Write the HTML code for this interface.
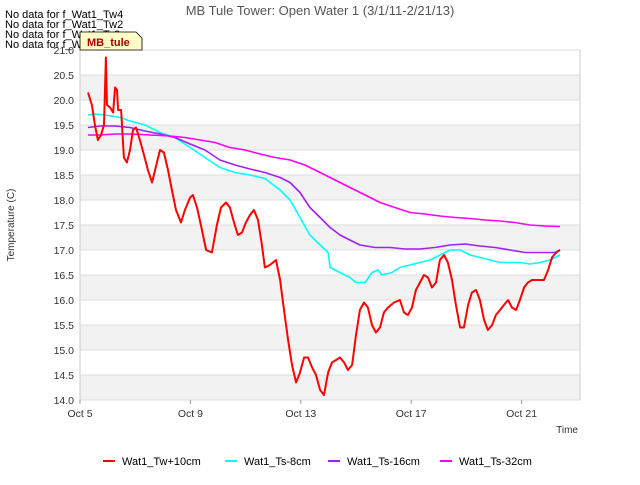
<!DOCTYPE html>
<html><head><meta charset="utf-8"><style>
body{margin:0;background:#fff;font-family:"Liberation Sans",sans-serif;}
svg text{font-family:"Liberation Sans",sans-serif;}
</style></head><body>
<svg width="640" height="480" viewBox="0 0 640 480">
<g id="bands"></g><g id="grid"></g><g id="ticks"></g><g id="series"></g>
<text x="320" y="15" text-anchor="middle" font-size="13" fill="#555">MB Tule Tower: Open Water 1 (3/1/11-2/21/13)</text>
<text x="14" y="225" text-anchor="middle" font-size="10" fill="#333" transform="rotate(-90 14 225)">Temperature (C)</text>
<text x="578" y="433" text-anchor="end" font-size="10" fill="#333">Time</text>
<g font-size="11" fill="#000">
<text x="5" y="18">No data for f_Wat1_Tw4</text>
<text x="5" y="28">No data for f_Wat1_Tw2</text>
<text x="5" y="38">No data for f_Wat1_Ts2</text>
<text x="5" y="48">No data for f_Wat1_Ts4</text>
</g>
<g>
<path d="M80,32 L136,32 L142,38 L142,50 L80,50 Z" fill="#ffffc8" stroke="#000" stroke-width="0.8"/>
<text x="87" y="46" font-size="11" font-weight="bold" fill="#a00">MB_tule</text>
</g>
<g id="legend"></g>
</svg>
<script>
const NS="http://www.w3.org/2000/svg";
const X0=80,X1=580,Y0=400,Y1=50,DAYPX=27.6,YMIN=14,YMAX=21;
const yTicks=[14.0,14.5,15.0,15.5,16.0,16.5,17.0,17.5,18.0,18.5,19.0,19.5,20.0,20.5,21.0];
const xTickDays=[0,4,8,12,16];
const xTickLabels=["Oct 5","Oct 9","Oct 13","Oct 17","Oct 21"];
const seriesNames=["Wat1_Tw+10cm","Wat1_Ts-8cm","Wat1_Ts-16cm","Wat1_Ts-32cm"];
const seriesColors=["#ff0000","#00ffff","#a020f0","#ff00ff"];
const redDays=[0.29,0.43,0.54,0.65,0.76,0.87,0.94,0.98,1.09,1.20,1.27,1.34,1.38,1.49,1.59,1.70,1.81,1.92,2.03,2.17,2.32,2.46,2.61,2.72,2.90,3.04,3.19,3.33,3.48,3.66,3.80,3.99,4.09,4.24,4.38,4.57,4.78,4.96,5.11,5.29,5.43,5.58,5.72,5.87,6.01,6.16,6.30,6.45,6.59,6.70,6.88,7.10,7.25,7.39,7.54,7.68,7.83,7.97,8.12,8.26,8.41,8.55,8.70,8.84,8.99,9.13,9.28,9.42,9.57,9.71,9.86,10.0,10.14,10.29,10.43,10.58,10.72,10.87,11.01,11.16,11.38,11.59,11.74,11.88,12.03,12.17,12.32,12.46,12.61,12.75,12.90,13.04,13.19,13.33,13.48,13.62,13.77,13.91,14.06,14.20,14.35,14.49,14.64,14.78,14.93,15.07,15.22,15.36,15.51,15.65,15.80,15.94,16.09,16.23,16.38,16.52,16.67,16.81,16.96,17.10,17.25,17.39];
const redVals=[20.15,19.9,19.5,19.2,19.3,19.5,20.85,19.9,19.85,19.75,20.25,20.2,19.8,19.8,18.85,18.75,19.0,19.4,19.45,19.2,18.9,18.6,18.35,18.6,19.0,18.95,18.6,18.2,17.8,17.55,17.8,18.05,18.1,17.85,17.5,17.0,16.95,17.5,17.85,17.95,17.85,17.55,17.3,17.35,17.55,17.7,17.8,17.6,17.1,16.65,16.7,16.8,16.4,15.8,15.2,14.7,14.35,14.55,14.85,14.85,14.65,14.5,14.2,14.1,14.55,14.75,14.8,14.85,14.75,14.6,14.7,15.3,15.8,15.95,15.85,15.5,15.35,15.45,15.75,15.85,15.95,16.0,15.75,15.7,15.85,16.2,16.35,16.5,16.45,16.25,16.35,16.8,16.9,16.75,16.4,15.9,15.45,15.45,15.9,16.15,16.2,16.0,15.6,15.4,15.5,15.7,15.8,15.9,16.0,15.85,15.8,16.0,16.25,16.35,16.4,16.4,16.4,16.4,16.6,16.85,16.95,17.0];
const cyanDays=[0.29,0.54,0.91,1.45,1.81,2.36,2.90,3.44,3.99,4.53,5.07,5.62,6.16,6.70,7.25,7.61,7.97,8.33,8.70,8.99,9.06,9.42,9.78,10.0,10.33,10.58,10.80,10.94,11.30,11.59,11.96,12.32,12.68,13.04,13.41,13.77,14.13,14.49,14.86,15.22,15.58,15.94,16.30,16.67,17.03,17.39];
const cyanVals=[19.7,19.72,19.7,19.65,19.58,19.5,19.35,19.25,19.05,18.85,18.65,18.55,18.5,18.43,18.2,18.0,17.65,17.3,17.1,16.95,16.65,16.55,16.45,16.35,16.35,16.55,16.6,16.5,16.55,16.65,16.7,16.75,16.8,16.9,17.0,17.0,16.9,16.85,16.8,16.75,16.75,16.75,16.72,16.75,16.8,16.9];
const purpDays=[0.29,0.72,1.27,1.81,2.36,2.90,3.44,3.99,4.53,5.07,5.62,6.16,6.70,7.25,7.61,7.97,8.33,8.70,9.06,9.42,9.78,10.14,10.69,11.23,11.78,12.32,12.86,13.41,13.95,14.49,15.04,15.58,16.12,16.67,17.21,17.39];
const purpVals=[19.45,19.48,19.48,19.45,19.38,19.32,19.25,19.12,19.0,18.8,18.7,18.62,18.55,18.45,18.35,18.15,17.85,17.65,17.45,17.3,17.2,17.1,17.05,17.05,17.02,17.02,17.05,17.1,17.12,17.08,17.05,17.0,16.95,16.95,16.95,17.0];
const magDays=[0.29,0.72,1.27,1.81,2.54,3.26,3.80,4.35,4.89,5.43,5.98,6.52,7.07,7.61,8.15,8.70,9.24,9.78,10.33,10.87,11.41,11.96,12.50,13.04,13.59,14.13,14.67,15.22,15.76,16.30,16.85,17.39];
const magVals=[19.3,19.3,19.32,19.32,19.3,19.28,19.25,19.2,19.15,19.05,19.0,18.92,18.85,18.8,18.7,18.55,18.4,18.25,18.1,17.95,17.85,17.75,17.72,17.68,17.65,17.63,17.6,17.58,17.55,17.5,17.48,17.47];
const xs=d=>X0+d*DAYPX;
const ys=v=>Y0-(v-YMIN)/(YMAX-YMIN)*(Y0-Y1);
function mk(tag,attrs,parent){const e=document.createElementNS(NS,tag);for(const k in attrs)e.setAttribute(k,attrs[k]);parent.appendChild(e);return e;}
const bands=document.getElementById('bands'),grid=document.getElementById('grid'),ticks=document.getElementById('ticks'),ser=document.getElementById('series'),leg=document.getElementById('legend');
for(let i=0;i<yTicks.length-1;i++){
  if(i%2===0){const r=mk('rect',{x:X0,y:ys(yTicks[i+1]),width:X1-X0,height:ys(yTicks[i])-ys(yTicks[i+1]),fill:'#f2f2f2'},bands);
  
  }
}
mk('rect',{x:X0,y:Y1,width:X1-X0,height:Y0-Y1,fill:'none',stroke:'#ccc'},grid);
yTicks.forEach(v=>{
  const l=mk('line',{x1:X0,x2:X1,y1:ys(v),y2:ys(v),stroke:'#ddd'},grid);
  
  
  const t=mk('text',{x:X0-6,y:ys(v)+4,'text-anchor':'end','font-size':10.5,fill:'#333'},ticks);
  t.textContent=v.toFixed(1);
  
  
});
xTickDays.forEach((d,i)=>{
  mk('line',{x1:xs(d),x2:xs(d),y1:Y0,y2:Y0+4,stroke:'#999'},ticks);
  const t=mk('text',{x:xs(d),y:Y0+17,'text-anchor':'middle','font-size':10.5,fill:'#333'},ticks);
  t.textContent=xTickLabels[i];
  
  
});
const all=[[cyanDays,cyanVals,1],[purpDays,purpVals,2],[magDays,magVals,3],[redDays,redVals,0]];
all.forEach(([d,v,ci])=>{
  const p=mk('polyline',{points:d.map((x,i)=>xs(x).toFixed(1)+','+ys(v[i]).toFixed(1)).join(' '),fill:'none',stroke:seriesColors[ci],'stroke-width':ci===0?2:1.6,'stroke-linejoin':'round'},ser);
  
  
});
const legX=[103,225,328,440];
seriesNames.forEach((n,i)=>{
  const g=mk('g',{},leg);
  
  
  mk('line',{x1:legX[i],x2:legX[i]+12,y1:461,y2:461,stroke:seriesColors[i],'stroke-width':2},g);
  const t=mk('text',{x:legX[i]+19,y:465,'font-size':11,fill:'#000'},g);
  t.textContent=n;
});
</script>
</body></html>
